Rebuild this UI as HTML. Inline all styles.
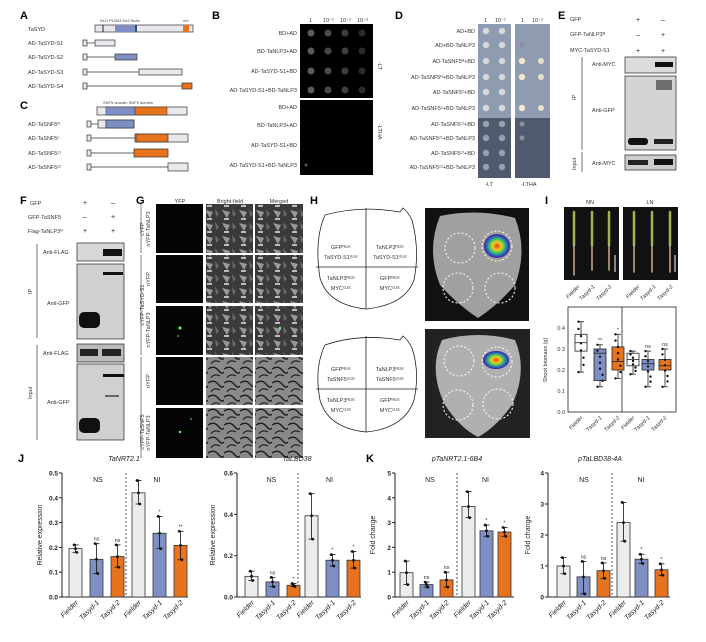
<!DOCTYPE html>
<html><head><meta charset="utf-8"><style>
html,body{margin:0;padding:0;background:#fff}
svg{display:block;font-family:"Liberation Sans",sans-serif}
.L{font-size:11px;font-weight:bold}
.s{font-size:5.5px;fill:#333}
.t{font-size:7px;fill:#222}
.it{font-style:italic}
</style></head><body>
<svg id="S" width="706" height="642" viewBox="0 0 706 642" xmlns="http://www.w3.org/2000/svg">
<defs>
<pattern id="bf" width="17" height="13" patternUnits="userSpaceOnUse">
<rect width="17" height="13" fill="#3a3a3a"/><path d="M1 2 L9 4 L6 10 Z" fill="#999"/><path d="M11 1 L15 6 L12 9Z" fill="#6a6a6a"/><rect x="3" y="10" width="5" height="2" fill="#bbb"/></pattern>
<pattern id="bf2" width="16" height="14" patternUnits="userSpaceOnUse">
<rect width="16" height="14" fill="#8a8a8a"/><path d="M0 5 Q6 1 10 6 T16 8" stroke="#222" fill="none" stroke-width="1.5"/><path d="M3 14 Q6 9 12 12" stroke="#222" fill="none" stroke-width="1.2"/></pattern>
<radialGradient id="heat"><stop offset="0" stop-color="#e84010"/><stop offset="0.35" stop-color="#f0d020"/><stop offset="0.6" stop-color="#30c070"/><stop offset="0.85" stop-color="#3050c0"/><stop offset="1" stop-color="#402090"/></radialGradient>
</defs>

<!-- A -->
<text x="20" y="19" class="L">A</text>
<text x="28" y="31" class="s">TaSYD</text>
<text x="100" y="22" style="font-size:4px" fill="#444">DLD  PLN03 N42 5nAc</text><text x="183" y="22" style="font-size:4px" fill="#444">me</text>
<rect x="95" y="25" width="98" height="7" fill="#e8e8ec" stroke="#333" stroke-width=".7"/>
<rect x="115" y="25" width="20" height="7" fill="#7f8fc4"/><rect x="135" y="25" width="2" height="7" fill="#2a4a8a"/>
<rect x="183" y="25" width="6" height="7" fill="#e8731e"/><line x1="103" y1="25" x2="103" y2="32" stroke="#222"/>
<text x="28" y="45" class="s">AD-TaSYD-S1</text><text x="28" y="59" class="s">AD-TaSYD-S2</text><text x="28" y="74" class="s">AD-TaSYD-S3</text><text x="28" y="88" class="s">AD-TaSYD-S4</text>
<g stroke="#333" stroke-width=".7" fill="#e8e8ec">
<rect x="83" y="40" width="4" height="6"/><line x1="87" y1="43" x2="95" y2="43"/><rect x="95" y="40" width="20" height="6"/>
<rect x="83" y="54" width="4" height="6"/><line x1="87" y1="57" x2="115" y2="57"/><rect x="115" y="54" width="22" height="6" fill="#7f8fc4"/>
<rect x="83" y="69" width="4" height="6"/><line x1="87" y1="72" x2="139" y2="72"/><rect x="139" y="69" width="43" height="6"/>
<rect x="83" y="83" width="4" height="6"/><line x1="87" y1="86" x2="182" y2="86"/><rect x="182" y="83" width="10" height="6" fill="#e8731e"/>
</g>
<!-- C -->
<text x="20" y="109" class="L">C</text>
<text x="103" y="104" style="font-size:4px" fill="#444">SNF5 domain  SNF5 domain</text>
<rect x="97" y="107" width="90" height="8" fill="#e8e8ec" stroke="#333" stroke-width=".7"/>
<rect x="106" y="107" width="29" height="8" fill="#7f8fc4" stroke="#333" stroke-width=".5"/><rect x="135" y="107" width="32" height="8" fill="#e8731e" stroke="#333" stroke-width=".5"/>
<text x="28" y="126" class="s">AD-TaSNF5ᴺ</text><text x="28" y="140" class="s">AD-TaSNF5ᶜ</text><text x="28" y="155" class="s">AD-TaSNF5ᶜ¹</text><text x="28" y="169" class="s">AD-TaSNF5ᶜ²</text>
<g stroke="#333" stroke-width=".7" fill="#e8e8ec">
<rect x="87" y="121" width="4" height="6"/><line x1="91" y1="124" x2="98" y2="124"/><rect x="98" y="120" width="36" height="8"/><rect x="106" y="120" width="28" height="8" fill="#7f8fc4"/>
<rect x="87" y="135" width="4" height="6"/><line x1="91" y1="138" x2="135" y2="138"/><rect x="135" y="134" width="53" height="8"/><rect x="136" y="134" width="32" height="8" fill="#e8731e"/>
<rect x="87" y="150" width="4" height="6"/><line x1="91" y1="153" x2="134" y2="153"/><rect x="134" y="149" width="34" height="8" fill="#e8731e"/>
<rect x="87" y="164" width="4" height="6"/><line x1="91" y1="167" x2="168" y2="167"/><rect x="168" y="163" width="20" height="8"/>
</g>
<!-- B -->
<text x="212" y="19" class="L">B</text>
<text x="309" y="22" class="s">1</text><text x="323" y="22" class="s">10⁻¹</text><text x="340" y="22" class="s">10⁻²</text><text x="357" y="22" class="s">10⁻³</text>
<rect x="300" y="24" width="73" height="74" fill="#000"/><rect x="300" y="100" width="73" height="75" fill="#000"/>
<g class="s" text-anchor="end">
<text x="297" y="35">BD+AD</text><text x="297" y="53">BD-TaNLP3+AD</text><text x="297" y="73">AD-TaSYD-S1+BD</text><text x="297" y="92">AD-TaSYD-S1+BD-TaNLP3</text>
<text x="297" y="109">BD+AD</text><text x="297" y="127">BD-TaNLP3+AD</text><text x="297" y="147">AD-TaSYD-S1+BD</text><text x="297" y="167">AD-TaSYD-S1+BD-TaNLP3</text>
</g>
<g id="bspots"></g>
<text transform="translate(378,62) rotate(90)" class="s">-LT</text>
<text transform="translate(378,124) rotate(90)" class="s">-LTHA</text>
<!-- D -->
<text x="395" y="19" class="L">D</text>
<text x="484" y="22" class="s">1</text><text x="495" y="22" class="s">10⁻¹</text><text x="521" y="22" class="s">1</text><text x="532" y="22" class="s">10⁻²</text>
<rect x="478" y="24" width="33" height="94" fill="#8e9bb0"/><rect x="478" y="118" width="33" height="60" fill="#505a6e"/>
<rect x="515" y="24" width="35" height="94" fill="#8e9bb0"/><rect x="515" y="118" width="35" height="60" fill="#505a6e"/>
<g class="s" text-anchor="end">
<text x="475" y="33">AD+BD</text><text x="475" y="47">AD+BD-TaNLP3</text><text x="475" y="63">AD-TaSNF5ᴺ+BD</text><text x="475" y="79">AD-TaSNF5ᴺ+BD-TaNLP3</text><text x="475" y="94">AD-TaSNF5ᶜ+BD</text><text x="475" y="110">AD-TaSNF5ᶜ+BD-TaNLP3</text><text x="475" y="126">AD-TaSNF5ᶜ¹+BD</text><text x="475" y="140">AD-TaSNF5ᶜ¹+BD-TaNLP3</text><text x="475" y="155">AD-TaSNF5ᶜ²+BD</text><text x="475" y="169">AD-TaSNF5ᶜ²+BD-TaNLP3</text>
</g>
<g id="dspots"></g>
<text x="485" y="186" class="s">-LT</text><text x="521" y="186" class="s">-LTHA</text>
<!-- E -->
<text x="558" y="19" class="L">E</text>
<g class="s"><text x="570" y="21">GFP</text><text x="570" y="36">GFP-TaNLP3ᴺ</text><text x="570" y="52">MYC-TaSYD-S1</text></g>
<g class="t" text-anchor="middle"><text x="638" y="22">+</text><text x="663" y="22">–</text><text x="638" y="37">–</text><text x="663" y="37">+</text><text x="638" y="53">+</text><text x="663" y="53">+</text></g>
<rect x="625" y="57" width="51" height="16" fill="#dcdcdc" stroke="#222" stroke-width=".7"/><rect x="655" y="62" width="18" height="5" fill="#111"/>
<rect x="625" y="76" width="51" height="74" fill="#d4d4d4" stroke="#222" stroke-width=".7"/><rect x="628" y="138" width="20" height="7" rx="3" fill="#111"/><rect x="654" y="139" width="19" height="5" fill="#222"/><rect x="656" y="80" width="16" height="10" fill="#555" opacity=".8"/>
<rect x="625" y="155" width="51" height="15" fill="#ccc" stroke="#222" stroke-width=".7"/><rect x="628" y="160" width="20" height="5" fill="#222"/><rect x="654" y="159" width="19" height="6" fill="#111"/>
<text x="592" y="66" class="s">Anti-MYC</text><text x="592" y="112" class="s">Anti-GFP</text><text x="592" y="165" class="s">Anti-MYC</text>
<line x1="582" y1="57" x2="582" y2="150" stroke="#333" stroke-width=".7"/><line x1="582" y1="152" x2="582" y2="172" stroke="#333" stroke-width=".7"/>
<text transform="translate(576,100) rotate(-90)" class="s">IP</text><text transform="translate(576,170) rotate(-90)" class="s">Input</text>
<!-- F -->
<text x="20" y="204" class="L">F</text>
<g class="s"><text x="30" y="205">GFP</text><text x="28" y="219">GFP-TaSNF5</text><text x="28" y="233">Flag-TaNLP3ᴺ</text></g>
<g class="t" text-anchor="middle"><text x="85" y="205">+</text><text x="113" y="205">–</text><text x="85" y="219">–</text><text x="113" y="219">+</text><text x="85" y="233">+</text><text x="113" y="233">+</text></g>
<rect x="77" y="243" width="47" height="18" fill="#d8d8d8" stroke="#222" stroke-width=".7"/><rect x="103" y="249" width="19" height="7" fill="#111"/>
<rect x="77" y="264" width="47" height="75" fill="#d0d0d0" stroke="#222" stroke-width=".7"/><rect x="79" y="312" width="21" height="16" rx="5" fill="#111"/><rect x="103" y="272" width="20" height="3" fill="#111"/>
<rect x="77" y="344" width="47" height="18" fill="#bbb" stroke="#222" stroke-width=".7"/><rect x="80" y="349" width="18" height="7" fill="#222"/><rect x="102" y="349" width="19" height="7" fill="#222"/>
<rect x="77" y="364" width="47" height="76" fill="#d0d0d0" stroke="#222" stroke-width=".7"/><rect x="79" y="418" width="21" height="15" rx="5" fill="#111"/><rect x="103" y="374" width="21" height="3" fill="#111"/><rect x="105" y="395" width="14" height="2" fill="#666"/>
<g class="s"><text x="43" y="254">Anti-FLAG</text><text x="47" y="305">Anti-GFP</text><text x="43" y="355">Anti-FLAG</text><text x="47" y="404">Anti-GFP</text></g>
<line x1="37" y1="244" x2="37" y2="338" stroke="#333" stroke-width=".7"/><line x1="37" y1="345" x2="37" y2="440" stroke="#333" stroke-width=".7"/>
<text transform="translate(32,294) rotate(-90)" class="s">IP</text><text transform="translate(32,399) rotate(-90)" class="s">Input</text>
<!-- G -->
<text x="136" y="204" class="L">G</text>
<g class="s" text-anchor="middle"><text x="180" y="203">YFP</text><text x="230" y="203">Bright-field</text><text x="279" y="203">Merged</text></g>
<g id="gimg"></g>
<g class="s" text-anchor="middle">
<text transform="translate(144,229) rotate(-90)">cYFP</text><text transform="translate(150,229) rotate(-90)">nYFP-TaNLP3</text>
<text transform="translate(144,305) rotate(-90)">cYFP-TaSYD-S1</text><text transform="translate(150,279) rotate(-90)">nYFP</text><text transform="translate(150,330) rotate(-90)">nYFP-TaNLP3</text>
<text transform="translate(144,432) rotate(-90)">cYFP-TaSNF5</text><text transform="translate(150,381) rotate(-90)">nYFP</text><text transform="translate(150,433) rotate(-90)">nYFP-TaNLP3</text>
</g>
<circle cx="180" cy="328" r="1.5" fill="#6f6"/><circle cx="178" cy="336" r=".8" fill="#6f6"/><circle cx="180" cy="432" r="1.2" fill="#6f6"/><circle cx="191" cy="419" r=".8" fill="#6f6"/><circle cx="280" cy="328" r="1.2" fill="#6f6"/>
<!-- H -->
<text x="310" y="204" class="L">H</text>
<g fill="none" stroke="#222" stroke-width=".8">
<path d="M325 215 Q360 205 400 212 L403 208 Q408 212 412 220 Q420 250 414 280 Q405 305 366 309 Q328 305 320 278 Q314 240 325 215Z" fill="#fff"/>
<line x1="366" y1="208" x2="366" y2="309"/><line x1="316" y1="267" x2="418" y2="267"/>
<path d="M325 345 Q360 333 400 340 L403 336 Q408 340 412 348 Q420 372 414 400 Q405 428 366 432 Q328 428 320 400 Q314 368 325 345Z" fill="#fff"/>
<line x1="366" y1="336" x2="366" y2="432"/><line x1="316" y1="389" x2="418" y2="389"/>
</g>
<g class="s" text-anchor="middle">
<text x="341" y="249">GFPᴺᴸᵁᶜ</text><text x="341" y="259">TaSYD-S1ᶜᴸᵁᶜ</text><text x="390" y="249">TaNLP3ᴺᴸᵁᶜ</text><text x="390" y="259">TaSYD-S1ᶜᴸᵁᶜ</text>
<text x="341" y="280">TaNLP3ᴺᴸᵁᶜ</text><text x="341" y="290">MYCᶜᴸᵁᶜ</text><text x="390" y="280">GFPᴺᴸᵁᶜ</text><text x="390" y="290">MYCᶜᴸᵁᶜ</text>
<text x="341" y="371">GFPᴺᴸᵁᶜ</text><text x="341" y="381">TaSNF5ᶜᴸᵁᶜ</text><text x="390" y="371">TaNLP3ᴺᴸᵁᶜ</text><text x="390" y="381">TaSNF5ᶜᴸᵁᶜ</text>
<text x="341" y="402">TaNLP3ᴺᴸᵁᶜ</text><text x="341" y="412">MYCᶜᴸᵁᶜ</text><text x="390" y="402">GFPᴺᴸᵁᶜ</text><text x="390" y="412">MYCᶜᴸᵁᶜ</text>
</g>
<rect x="425" y="208" width="104" height="113" fill="#111"/>
<path d="M440 216 Q477 208 515 218 Q528 250 515 285 Q498 305 478 318 Q458 305 440 285 Q426 250 440 216Z" fill="#a0a0a0"/>
<g fill="none" stroke="#fff" stroke-width="1" stroke-dasharray="2 2"><circle cx="460" cy="248" r="15"/><circle cx="497" cy="246" r="15"/><circle cx="458" cy="288" r="15"/><circle cx="500" cy="288" r="15"/></g>
<ellipse cx="497" cy="246" rx="13" ry="12" fill="url(#heat)"/>
<rect x="425" y="329" width="105" height="109" fill="#222"/>
<path d="M442 340 Q478 330 515 340 Q528 370 512 405 Q495 428 478 437 Q460 428 445 405 Q428 370 442 340Z" fill="#b0b0b0"/>
<g fill="none" stroke="#fff" stroke-width="1" stroke-dasharray="2 2"><circle cx="459" cy="361" r="15"/><circle cx="497" cy="362" r="15"/><circle cx="458" cy="405" r="15"/><circle cx="498" cy="404" r="15"/></g>
<ellipse cx="496" cy="360" rx="13" ry="9" fill="url(#heat)"/>
<!-- I -->
<text x="545" y="204" class="L">I</text>
<text x="590" y="204" class="s" text-anchor="middle">NN</text><text x="650" y="204" class="s" text-anchor="middle">LN</text>
<rect x="564" y="207" width="55" height="73" fill="#111"/><rect x="623" y="207" width="55" height="73" fill="#111"/>
<g stroke-linecap="round"><g stroke="#9ab84a" stroke-width="2.5"><line x1="574" y1="212" x2="574" y2="245"/><line x1="592" y1="212" x2="592" y2="245"/><line x1="609" y1="212" x2="609" y2="245"/><line x1="634" y1="212" x2="634" y2="245"/><line x1="652" y1="212" x2="652" y2="245"/><line x1="670" y1="212" x2="670" y2="245"/></g>
<g stroke="#c8b090" stroke-width="1.5"><line x1="574" y1="245" x2="574" y2="275"/><line x1="592" y1="245" x2="592" y2="270"/><line x1="609" y1="245" x2="609" y2="270"/><line x1="634" y1="245" x2="634" y2="272"/><line x1="652" y1="245" x2="652" y2="272"/><line x1="670" y1="245" x2="670" y2="272"/></g></g>
<line x1="615" y1="255" x2="615" y2="272" stroke="#fff"/><line x1="675" y1="255" x2="675" y2="272" stroke="#fff"/>
<g class="s" font-style="italic" text-anchor="end">
<text transform="translate(580,287) rotate(-45)">Fielder</text><text transform="translate(595,287) rotate(-45)">Tasyd-1</text><text transform="translate(612,287) rotate(-45)">Tasyd-2</text>
<text transform="translate(640,287) rotate(-45)">Fielder</text><text transform="translate(656,287) rotate(-45)">Tasyd-1</text><text transform="translate(673,287) rotate(-45)">Tasyd-2</text>
<text transform="translate(583,418) rotate(-45)">Fielder</text><text transform="translate(602,418) rotate(-45)">Tasyd-1</text><text transform="translate(620,418) rotate(-45)">Tasyd-2</text>
<text transform="translate(635,418) rotate(-45)">Fielder</text><text transform="translate(650,418) rotate(-45)">Tasyd-1</text><text transform="translate(667,418) rotate(-45)">Tasyd-2</text>
</g>
<rect x="568" y="307" width="108" height="105" fill="none" stroke="#222" stroke-width=".8"/><line x1="622" y1="307" x2="622" y2="412" stroke="#222" stroke-width=".8"/>
<g class="s" text-anchor="end"><text x="565" y="414">0.0</text><text x="565" y="393">0.1</text><text x="565" y="372">0.2</text><text x="565" y="351">0.3</text><text x="565" y="330">0.4</text></g>
<text transform="translate(547,360) rotate(-90)" class="s" text-anchor="middle">Shoot biomass (g)</text>
<g id="box"></g>
<!-- J/K -->
<text x="18" y="462" class="L">J</text><text x="366" y="462" class="L">K</text>
<g class="t it" text-anchor="middle"><text x="124" y="461">TaNRT2.1</text><text x="297" y="461">TaLBD38</text><text x="457" y="461">pTaNRT2.1-6B4</text><text x="600" y="461">pTaLBD38-4A</text></g>
<g class="t" text-anchor="middle"><text transform="translate(42,535) rotate(-90)">Relative expression</text><text transform="translate(215,535) rotate(-90)">Relative expression</text><text transform="translate(375,535) rotate(-90)">Fold change</text><text transform="translate(530,535) rotate(-90)">Fold change</text></g>
<g id="bars"></g>
</svg>
<script>
var NS="http://www.w3.org/2000/svg";
function el(p,t,a){var e=document.createElementNS(NS,t);for(var k in a)e.setAttribute(k,a[k]);p.appendChild(e);return e;}
function tx(p,x,y,s,a){var e=el(p,"text",Object.assign({x:x,y:y},a||{}));e.textContent=s;return e;}
var bs=document.getElementById("bspots");
[33,51,71,90].forEach(function(y){[311,328,345,362].forEach(function(x,i){el(bs,"circle",{cx:x,cy:y,r:3.5,fill:["#5a5a5a","#4a4a4a","#3e3e3e","#2a2a2a"][i]});});});
el(bs,"circle",{cx:306,cy:165,r:1.5,fill:"#555"});
var ds=document.getElementById("dspots");
var dy=[31,45,61,77,92,108,124,138,153,167];
var rgrow=[0,1,2,2,0,2,1,1,0,0];
dy.forEach(function(y,k){var c=k<6?"#d8d8d8":"#9aa0aa";el(ds,"circle",{cx:486,cy:y,r:3.2,fill:c});el(ds,"circle",{cx:502,cy:y,r:3.2,fill:c});
 if(rgrow[k]==2){el(ds,"circle",{cx:522,cy:y,r:3.2,fill:"#f0e8d0"});el(ds,"circle",{cx:541,cy:y,r:3,fill:"#e8e0c8"});}
 else if(rgrow[k]==1){el(ds,"circle",{cx:522,cy:y,r:2.5,fill:"#8a909c"});}});
var g=document.getElementById("gimg");
var rows=[[204,253],[255,303],[306,355],[357,405],[408,458]];
rows.forEach(function(r,i){var h=r[1]-r[0];el(g,"rect",{x:156,y:r[0],width:47,height:h,fill:"#050505"});
 el(g,"rect",{x:206,y:r[0],width:47,height:h,fill:i<3?"url(#bf)":"url(#bf2)"});
 el(g,"rect",{x:255,y:r[0],width:48,height:h,fill:i<3?"url(#bf)":"url(#bf2)"});});
el(g,"line",{x1:141,y1:204,x2:141,y2:253,stroke:"#333","stroke-width":.6});
el(g,"line",{x1:141,y1:255,x2:141,y2:355,stroke:"#333","stroke-width":.6});
el(g,"line",{x1:141,y1:357,x2:141,y2:458,stroke:"#333","stroke-width":.6});
var bx=document.getElementById("box");
function Y(v){return 412-v*210;}
var cols=["#fff","#7f8fc4","#e8731e","#fff","#7f8fc4","#e8731e"];
var xs=[581,600,618,633,648,665];
var d=[[.19,.29,.33,.37,.43],[.12,.15,.28,.30,.32],[.16,.20,.24,.31,.37],[.18,.22,.25,.28,.29],[.12,.20,.23,.25,.29],[.12,.20,.22,.25,.30]];
var lab=["","**","*","","ns","ns"];
d.forEach(function(q,i){var x=xs[i];el(bx,"line",{x1:x,x2:x,y1:Y(q[4]),y2:Y(q[0]),stroke:"#222","stroke-width":.8});
 el(bx,"line",{x1:x-3,x2:x+3,y1:Y(q[4]),y2:Y(q[4]),stroke:"#222","stroke-width":.8});el(bx,"line",{x1:x-3,x2:x+3,y1:Y(q[0]),y2:Y(q[0]),stroke:"#222","stroke-width":.8});
 el(bx,"rect",{x:x-6,y:Y(q[3]),width:12,height:Y(q[1])-Y(q[3]),fill:cols[i],stroke:"#222","stroke-width":.8});
 el(bx,"line",{x1:x-6,x2:x+6,y1:Y(q[2]),y2:Y(q[2]),stroke:"#222","stroke-width":.8});
 for(var k=0;k<8;k++){var v=q[0]+(q[4]-q[0])*((k*37%8)/7);el(bx,"circle",{cx:x+((k%3)-1)*2.5,cy:Y(v),r:1.2,fill:"#111"});}
 if(lab[i])tx(bx,x,Y(q[4])-3,lab[i],{"class":"s","text-anchor":"middle"});});
var B=document.getElementById("bars");
var charts=[
 {ax:62,end:188,max:.5,step:.1,fmt:1,bx:[69,90,111,132,153,174],dash:126,v:[.195,.152,.163,.42,.257,.208],hi:[.21,.215,.21,.47,.325,.265],lo:[.18,.095,.12,.375,.195,.15],st:["","ns","ns","","*","**"]},
 {ax:237,end:361,max:.6,step:.2,fmt:1,bx:[245,266,287,305,326,347],dash:298,v:[.1,.073,.057,.393,.178,.178],hi:[.125,.095,.065,.5,.205,.22],lo:[.08,.05,.05,.28,.15,.14],st:["","ns","*","","*","*"]},
 {ax:395,end:514,max:5,step:1,fmt:0,bx:[400,420,440,462,480,498],dash:457,v:[.98,.5,.69,3.65,2.67,2.62],hi:[1.45,.6,1.0,4.25,2.9,2.8],lo:[.5,.4,.4,3.2,2.45,2.45],st:["","ns","ns","","*","*"]},
 {ax:548,end:670,max:4,step:1,fmt:0,bx:[557,577,597,617,635,655],dash:612,v:[1,.65,.85,2.4,1.22,.88],hi:[1.27,1.15,1.1,3.05,1.38,1.07],lo:[.75,.1,.6,1.8,1.08,.7],st:["","ns","ns","","*","*"]}];
var fills=["#ececec","#7f8fc4","#e8731e","#ececec","#7f8fc4","#e8731e"];
var names=["Fielder","Tasyd-1","Tasyd-2","Fielder","Tasyd-1","Tasyd-2"];
charts.forEach(function(c){var top=473,bot=597;function y(v){return bot-v/c.max*(bot-top);}
 el(B,"line",{x1:c.ax,x2:c.ax,y1:top,y2:bot,stroke:"#222","stroke-width":1});
 el(B,"line",{x1:c.ax,x2:c.end,y1:bot,y2:bot,stroke:"#222","stroke-width":1});
 for(var v=0;v<=c.max+1e-9;v+=c.step){var yy=y(v);el(B,"line",{x1:c.ax-3,x2:c.ax,y1:yy,y2:yy,stroke:"#222","stroke-width":1});
  tx(B,c.ax-4,yy+2.5,v.toFixed(c.fmt),{"class":"t","text-anchor":"end",style:"font-weight:bold;font-size:6.5px"});}
 el(B,"line",{x1:c.dash,x2:c.dash,y1:top,y2:bot,stroke:"#222","stroke-width":.8,"stroke-dasharray":"2 2"});
 tx(B,(c.ax+c.dash)/2+4,482,"NS",{"class":"t","text-anchor":"middle"});
 tx(B,(c.dash+c.end)/2,482,"NI",{"class":"t","text-anchor":"middle"});
 c.bx.forEach(function(x,i){var w=13,cx=x+w/2;
  el(B,"rect",{x:x,y:y(c.v[i]),width:w,height:bot-y(c.v[i]),fill:fills[i],stroke:"#333","stroke-width":.8});
  el(B,"line",{x1:cx,x2:cx,y1:y(c.hi[i]),y2:y(c.lo[i]),stroke:"#111","stroke-width":.8});
  el(B,"line",{x1:cx-3,x2:cx+3,y1:y(c.hi[i]),y2:y(c.hi[i]),stroke:"#111","stroke-width":.8});
  el(B,"line",{x1:cx-3,x2:cx+3,y1:y(c.lo[i]),y2:y(c.lo[i]),stroke:"#111","stroke-width":.8});
  [c.hi[i],c.v[i],c.lo[i]].forEach(function(v,k){el(B,"circle",{cx:cx+(k-1)*1.2,cy:y(v),r:1.4,fill:"#111"});});
  if(c.st[i])tx(B,cx,y(c.hi[i])-3,c.st[i],{"class":"s","text-anchor":"middle"});
  tx(B,cx+3,bot+6,names[i],{"class":"t it","text-anchor":"end",transform:"rotate(-45 "+(cx+3)+" "+(bot+6)+")"});
 });});
</script>
</body></html>
